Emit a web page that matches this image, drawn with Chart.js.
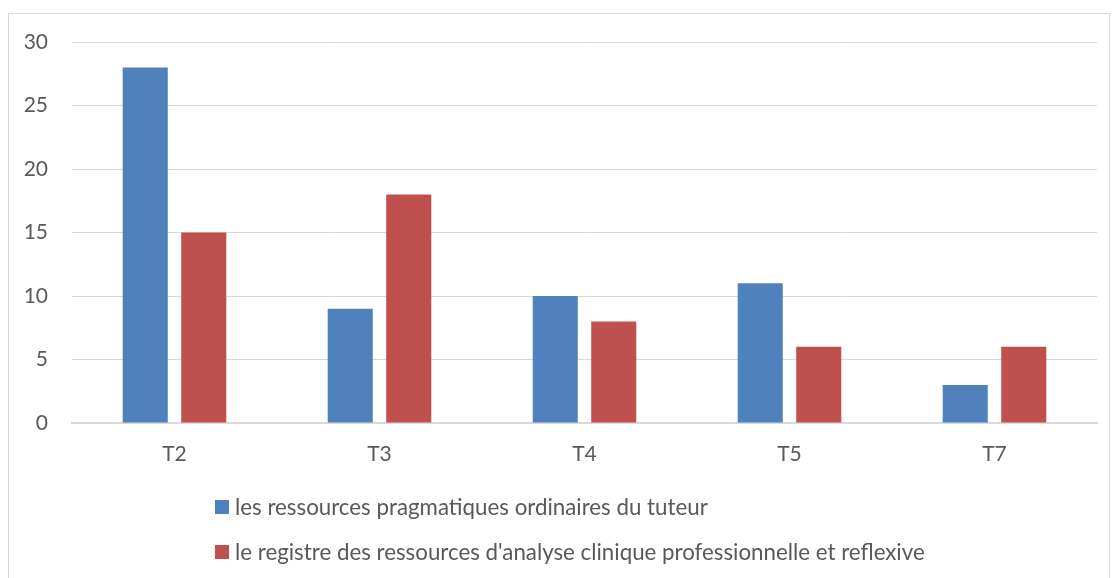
<!DOCTYPE html>
<html>
<head>
<meta charset="utf-8">
<script src="https://cdn.jsdelivr.net/npm/chart.js@4/dist/chart.umd.min.js"></script>
<style>
  html, body { margin: 0; padding: 0; background: #fff; overflow: hidden; }
  body { width: 1113px; height: 578px; position: relative; font-family: Lato, "Open Sans", sans-serif; }
  #frame { position: absolute; left: 8px; top: 13px; width: 1102px; height: 620px; border: 1px solid #d9d9d9; box-sizing: border-box; }
  #wrap { position: absolute; left: 0; top: 0; width: 1113px; height: 578px; }
  #legend { position: absolute; left: 215px; top: 484px; color: #595959; font-size: 22.3px; }
  #legend .item { display: flex; align-items: center; height: 45px; line-height: 45px; white-space: nowrap; }
  #legend .box { width: 14px; height: 14px; margin-right: 6px; flex: none; }
</style>
</head>
<body>
<div id="frame"></div>
<div id="wrap"><canvas id="c" width="1113" height="578"></canvas></div>
<div id="legend"></div>
<script>
const categories = ['T2', 'T3', 'T4', 'T5', 'T7'];
const seriesNames = [
  'les ressources pragmatiques ordinaires du tuteur',
  "le registre des ressources d'analyse clinique professionnelle et reflexive"
];
const pragmatiques = [28, 9, 10, 11, 3];
const registreClinique = [15, 18, 8, 6, 6];
const yTicks = [0, 5, 10, 15, 20, 25, 30];
const colors = ['#4f81bd', '#c0504d'];

const textColor = '#595959';
const gridColor = '#d9d9d9';

const chart = new Chart(document.getElementById('c'), {
  type: 'bar',
  data: {
    labels: categories,
    datasets: [
      { label: seriesNames[0], data: pragmatiques, backgroundColor: colors[0] },
      { label: seriesNames[1], data: registreClinique, backgroundColor: colors[1] }
    ]
  },
  options: {
    responsive: false,
    animation: false,
    devicePixelRatio: 1,
    datasets: { bar: { categoryPercentage: 0.571, barPercentage: 0.77 } },
    layout: { padding: { top: 42, right: 16, left: 0, bottom: 0 } },
    plugins: { legend: { display: false }, tooltip: { enabled: false } },
    scales: {
      x: {
        grid: { display: false, drawTicks: false },
        border: { display: true, color: gridColor, width: 2 },
        ticks: { color: textColor, font: { family: 'Lato', size: 21 }, padding: 19 },
        afterFit(scale) { scale.height = 155; }
      },
      y: {
        min: 0, max: 30,
        afterBuildTicks(scale) { scale.ticks = yTicks.map(v => ({ value: v })); },
        grid: { color: gridColor, lineWidth: 1, drawTicks: false },
        border: { display: false },
        ticks: { color: textColor, font: { family: 'Lato', size: 21 }, padding: 24 },
        afterFit(scale) { scale.width = 72; }
      }
    }
  }
});

const legend = document.getElementById('legend');
chart.data.datasets.forEach(ds => {
  const item = document.createElement('div');
  item.className = 'item';
  const box = document.createElement('span');
  box.className = 'box';
  box.style.background = ds.backgroundColor;
  const label = document.createElement('span');
  label.textContent = ds.label;
  item.appendChild(box);
  item.appendChild(label);
  legend.appendChild(item);
});
</script>
</body>
</html>
